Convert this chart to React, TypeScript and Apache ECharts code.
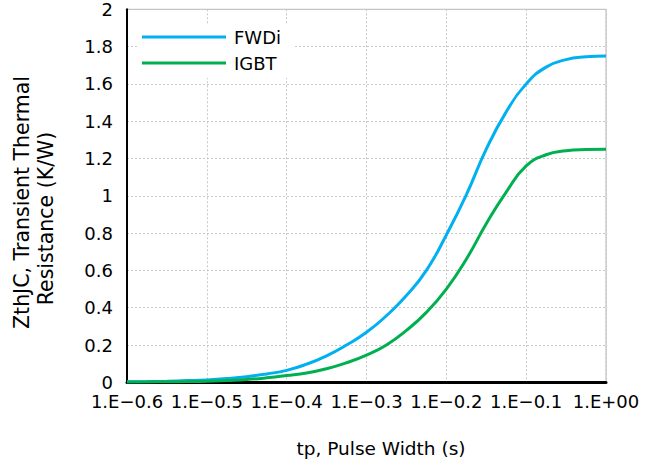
import React, { useEffect, useRef } from "react";
import * as echarts from "echarts";

// log10(tp) positions of the sampled points
const xExp = [
  -0.6, -0.575, -0.55, -0.525, -0.5, -0.475, -0.45, -0.425, -0.4, -0.375, -0.35, -0.325,
  -0.3, -0.275, -0.25, -0.225, -0.2, -0.175, -0.15, -0.125, -0.1, -0.075, -0.05, -0.025, 0,
];
const fwdi = [
  0.003, 0.004, 0.006, 0.009, 0.013, 0.02, 0.03, 0.045, 0.064, 0.097, 0.142, 0.2,
  0.268, 0.357, 0.465, 0.6, 0.79, 1.005, 1.25, 1.45, 1.6, 1.69, 1.73, 1.745, 1.75,
];
const igbt = [
  0.001, 0.002, 0.003, 0.004, 0.006, 0.01, 0.015, 0.024, 0.036, 0.05, 0.073, 0.105,
  0.146, 0.2, 0.278, 0.375, 0.5, 0.66, 0.85, 1.02, 1.16, 1.22, 1.241, 1.248, 1.25,
];
const xTickLabels = ["1.E−0.6", "1.E−0.5", "1.E−0.4", "1.E−0.3", "1.E−0.2", "1.E−0.1", "1.E+00"];
const seriesNames = ["FWDi", "IGBT"];
const xTitle = "tp, Pulse Width (s)";
const yTitleLines = ["ZthJC, Transient Thermal", "Resistance (K/W)"];

const FONT = "DejaVu Sans";

export default function App() {
  const ref = useRef<HTMLDivElement>(null);
  useEffect(() => {
    document.body.style.margin = "0";
    const chart = echarts.init(ref.current!, null, { renderer: "svg" });
    const xMin = -0.6;
    const xStep = 0.1;
    chart.setOption({
      animation: false,
      backgroundColor: "#fff",
      grid: {
        left: 127,
        right: 51,
        top: 9.3,
        bottom: 79.7,
        show: true,
        borderColor: "#b4b4b4",
        borderWidth: 1,
      },
      legend: {
        data: seriesNames,
        orient: "vertical",
        left: 137,
        top: 24,
        padding: [3, 12, 5, 5],
        backgroundColor: "#fff",
        icon: "rect",
        itemWidth: 84,
        itemHeight: 3,
        itemGap: 6,
        textStyle: { fontFamily: FONT, fontSize: 18, color: "#000", lineHeight: 20, padding: [0, 0, 0, 3] },
      },
      xAxis: {
        type: "value",
        min: xMin,
        max: 0,
        interval: xStep,
        axisLine: { show: true, onZero: false, lineStyle: { color: "#000", width: 3 } },
        axisTick: { show: false },
        axisLabel: {
          fontFamily: FONT,
          fontSize: 18,
          color: "#000",
          margin: 10,
          formatter: (v: number) => xTickLabels[Math.round((v - xMin) / xStep)] ?? "",
        },
        splitLine: { show: true, lineStyle: { color: "#c8c8c8", type: [2, 2], width: 1 } },
      },
      yAxis: {
        type: "value",
        min: 0,
        max: 2,
        interval: 0.2,
        axisLine: { show: true, onZero: false, lineStyle: { color: "#000", width: 2 } },
        axisTick: { show: false },
        axisLabel: { fontFamily: FONT, fontSize: 18, color: "#000", margin: 14 },
        splitLine: { show: true, lineStyle: { color: "#c8c8c8", type: [2, 2], width: 1 } },
      },
      series: [
        {
          name: seriesNames[0],
          type: "line",
          smooth: true,
          showSymbol: false,
          data: xExp.map((x, i) => [x, fwdi[i]]),
          lineStyle: { color: "#00B0F0", width: 3 },
          itemStyle: { color: "#00B0F0" },
        },
        {
          name: seriesNames[1],
          type: "line",
          smooth: true,
          showSymbol: false,
          data: xExp.map((x, i) => [x, igbt[i]]),
          lineStyle: { color: "#00B050", width: 3 },
          itemStyle: { color: "#00B050" },
        },
      ],
      graphic: [
        {
          type: "text",
          x: 381,
          y: 448,
          style: { text: xTitle, fontFamily: FONT, fontSize: 18.5, fill: "#000", align: "center", verticalAlign: "middle" },
        },
        {
          type: "text",
          x: 21.5,
          y: 202.5,
          rotation: Math.PI / 2,
          style: { text: yTitleLines[0], fontFamily: FONT, fontSize: 20.5, fill: "#000", align: "center", verticalAlign: "middle" },
        },
        {
          type: "text",
          x: 46,
          y: 218.5,
          rotation: Math.PI / 2,
          style: { text: yTitleLines[1], fontFamily: FONT, fontSize: 20.5, fill: "#000", align: "center", verticalAlign: "middle" },
        },
      ],
    });
    return () => chart.dispose();
  }, []);
  return <div ref={ref} style={{ width: 657, height: 462 }} />;
}
